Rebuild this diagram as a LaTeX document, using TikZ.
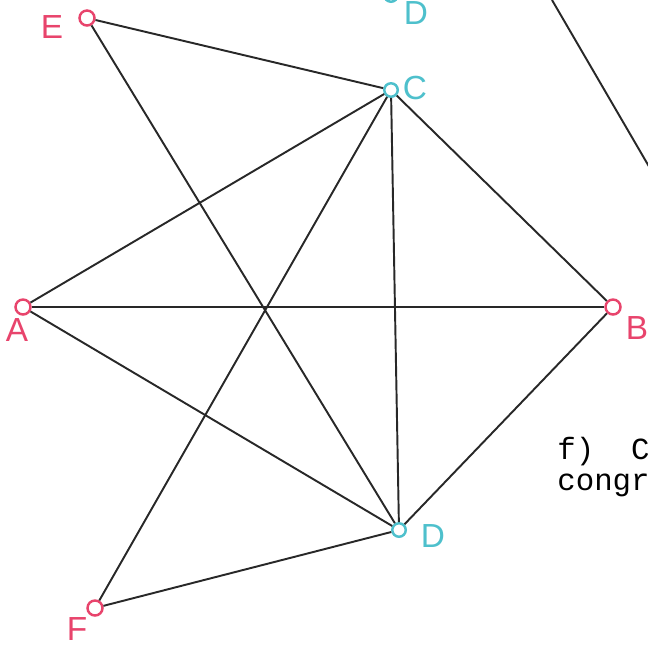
\documentclass[tikz,border=0pt]{standalone}
\usepackage{fontspec}
\setmainfont{Liberation Sans}
\setmonofont{Liberation Mono}
\usepackage{tikz}
\usetikzlibrary{positioning,calc}
\definecolor{penRed}{RGB}{232,68,108}
\definecolor{penCyan}{RGB}{78,192,204}
\definecolor{pencil}{RGB}{40,40,40}
\begin{document}
\begin{tikzpicture}[
        x=0.02cm, y=-0.02cm,
        pt/.style={circle, draw, line width=1.4pt, inner sep=0pt, minimum size=0.3cm},
        lbl/.style={font=\fontsize{19}{19}\selectfont, inner sep=0pt},
        ln/.style={pencil, line width=1.1pt},
        tt/.style={font=\fontsize{17.5}{18}\ttfamily, inner sep=0pt, anchor=base west}
      ]
        \useasboundingbox (0,0) rectangle (648,646);
        \clip (0,0) rectangle (648,646);
        % POINTS (red)
        \node[pt, penRed] (E) at (87,18) {};
        \node[pt, penRed] (A) at (23,307) {};
        \node[pt, penRed] (B) at (613,307) {};
        \node[pt, penRed] (F) at (95,608) {};
        % POINTS (cyan)
        \node[pt, penCyan, minimum size=0.27cm] (C) at (391,90) {};
        \node[pt, penCyan, minimum size=0.27cm] (D) at (399,530) {};
        \node[pt, penCyan, minimum size=0.27cm] (Dtop) at (391,-5) {};
        % Labels
        \node[lbl, text=penRed] (Elbl) at (52,27) {E};
        \node[lbl, text=penRed] (Albl) at (17,330) {A};
        \node[lbl, text=penRed] (Blbl) at (637,328) {B};
        \node[lbl, text=penRed] (Flbl) at (77,629) {F};
        \node[lbl, text=penCyan] (Clbl) at (415,88) {C};
        \node[lbl, text=penCyan] (Dlbl) at (433,536) {D};
        \node[lbl, text=penCyan] (Dtoplbl) at (416,13) {D};
        % Segments
        \draw[ln] (E)--(C);
        \draw[ln] (E)--(D);
        \draw[ln] (A)--(C);
        \draw[ln] (A)--(B);
        \draw[ln] (A)--(D);
        \draw[ln] (C)--(B);
        \draw[ln] (C)--(D);
        \draw[ln] (C)--(F);
        \draw[ln] (B)--(D);
        \draw[ln] (F)--(D);
        % Line running off the page
        \coordinate (p1) at (552,0);
        \coordinate (p2) at (658,182);
        \draw[ln] (p1)--(p2);
        % Typed caption
        \node[tt] (cap1) at (557,459) {f)\ \ C};
        \node[tt] (cap2) at (557,490) {congr};
      \end{tikzpicture}
\end{document}
